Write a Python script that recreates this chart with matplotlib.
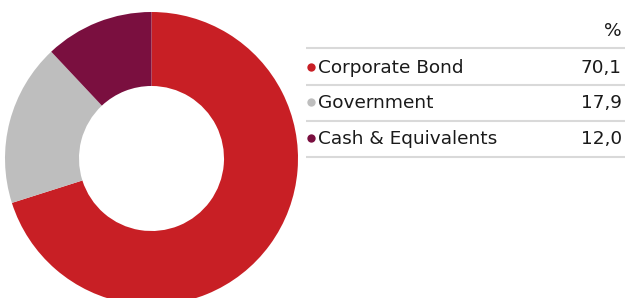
import matplotlib
matplotlib.use("Agg")
from matplotlib import pyplot as plt

categories = ["Corporate Bond", "Government", "Cash & Equivalents"]
values = [70.1, 17.9, 12.0]
value_labels = ["70,1", "17,9", "12,0"]
colors = ["#C81F25", "#BEBEBE", "#7A0F3F"]

W, H = 625, 298
fig = plt.figure(figsize=(W / 100, H / 100), dpi=100)

# donut, placed in pixel units
cx, cy, r = 151.5, 158.5, 146.5
ax = fig.add_axes([(cx - r) / W, (H - cy - r) / H, 2 * r / W, 2 * r / H])
ax.pie(values, colors=colors, startangle=90, counterclock=False, radius=1,
       wedgeprops=dict(width=0.505, linewidth=0))
ax.set_xlim(-1, 1)
ax.set_ylim(-1, 1)
ax.axis("off")

# table on an overlay axes in pixel coordinates
tx = fig.add_axes([0, 0, 1, 1])
tx.set_xlim(0, W)
tx.set_ylim(H, 0)
tx.axis("off")

font = dict(family="DejaVu Sans", fontsize=13.3, color="#1a1a1a", va="center")
tx.text(622, 31, "%", ha="right", **font)
line_y = [48, 84.5, 120.5, 156.5]
for y in line_y:
    tx.plot([306, 625], [y, y], color="#D9D9D9", lw=1.5, solid_capstyle="butt")
row_y = [68, 103, 139]
for name, lab, col, y in zip(categories, value_labels, colors, row_y):
    tx.plot(310.5, y - 1, "o", color=col, ms=6, mew=0)
    tx.text(318, y, name, ha="left", **font)
    tx.text(622, y, lab, ha="right", **font)

fig.savefig("out.png", dpi=100)
